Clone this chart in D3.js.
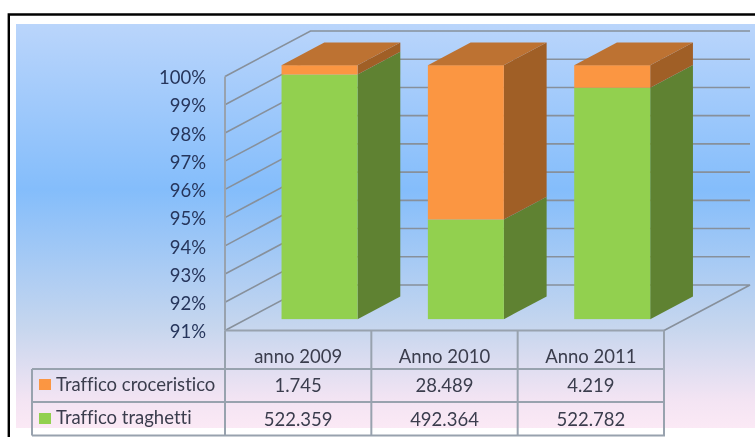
<!DOCTYPE html>
<html>
<head>
<meta charset="utf-8">
<script src="https://cdn.jsdelivr.net/npm/d3@7"></script>
<style>
  html, body { margin: 0; padding: 0; background: #fff; overflow: hidden; }
  svg { display: block; }
  text { font-family: Lato, "Open Sans", sans-serif; font-variant-ligatures: none; }
</style>
</head>
<body>
<svg id="chart" width="755" height="437"></svg>
<script>
var categories = ['anno 2009', 'Anno 2010', 'Anno 2011'];
var seriesNames = ['Traffico traghetti', 'Traffico croceristico'];
var traghetti = [522359, 492364, 522782];
var croceristico = [1745, 28489, 4219];
var yTicks = [0.91, 0.92, 0.93, 0.94, 0.95, 0.96, 0.97, 0.98, 0.99, 1];

var front = { 'Traffico traghetti': '#92d050', 'Traffico croceristico': '#fb9642' };
var side = { 'Traffico traghetti': '#5f8231', 'Traffico croceristico': '#a05f28' };
var topFace = '#bd7232';
var gridColor = '#87909b';
var frameColor = '#98a2ae';

var svg = d3.select('#chart');

var defs = svg.append('defs');
var grad = defs.append('linearGradient')
    .attr('id', 'bg').attr('x1', 0).attr('y1', 0).attr('x2', 0).attr('y2', 1);
[[0, '#bad5fb'], [0.41, '#84bdfb'], [0.75, '#c6d6ee'], [0.93, '#f3e4f3'], [1, '#fbe9f5']].forEach(function(s) {
    grad.append('stop').attr('offset', s[0]).attr('stop-color', s[1]);
});
defs.append('filter').attr('id', 'soft')
    .attr('x', '-2%').attr('y', '-2%').attr('width', '104%').attr('height', '104%')
    .append('feGaussianBlur').attr('stdDeviation', 0.45);

var root = svg.append('g').attr('filter', 'url(#soft)');

// background panel and the black frame of the screenshot
root.append('rect').attr('x', 16).attr('y', 24).attr('width', 745).attr('height', 404).attr('fill', 'url(#bg)');
root.append('path').attr('d', 'M8.8,445V14.5H765')
    .attr('fill', 'none').attr('stroke', '#000').attr('stroke-width', 2.4);

var x = d3.scaleBand().domain(categories).range([225, 664]);
var y = d3.scaleLinear().domain([0.91, 1]).range([330.5, 76.5]);
var depthX = 85.5, depthY = -45.5;

// stacked shares of the table values
var rows = categories.map(function(c, i) {
    return { category: c, 'Traffico traghetti': traghetti[i], 'Traffico croceristico': croceristico[i] };
});
var stacked = d3.stack().keys(seriesNames).offset(d3.stackOffsetExpand)(rows);

// walls
var wall = root.append('g').attr('fill', 'none');
wall.selectAll('path.grid')
    .data(yTicks.slice(1))
    .enter().append('path')
    .attr('class', 'grid')
    .attr('stroke', gridColor)
    .attr('stroke-width', 1.6)
    .attr('d', function(d) {
        return 'M225,' + y(d) + 'l' + depthX + ',' + depthY + 'H750';
    });
wall.append('path')
    .attr('stroke', gridColor).attr('stroke-width', 1.6)
    .attr('d', 'M225,' + y(0.91) + 'l' + depthX + ',' + depthY + 'H750L664,' + y(0.91));
wall.append('path')
    .attr('stroke', frameColor).attr('stroke-width', 2)
    .attr('d', 'M225,' + y(1) + 'V' + y(0.91));

// bars
var barWidth = 76, barDx = depthX / 4, barDy = depthY / 4;
var faceDx = depthX / 2, faceDy = depthY / 2;
var bars = root.append('g');
stacked.forEach(function(layer) {
    var name = layer.key;
    layer.forEach(function(d) {
        var cat = d.data.category;
        var x0 = x(cat) + (x.bandwidth() - barWidth) / 2 + barDx;
        var x1 = x0 + barWidth;
        // the axis starts at 91%, so the lower series is cut there
        var yb = y(Math.max(d[0], 0.91)) + barDy;
        var yt = y(d[1]) + barDy;
        bars.append('path').attr('fill', side[name])
            .attr('d', 'M' + x1 + ',' + yb + 'l' + faceDx + ',' + faceDy + 'V' + (yt + faceDy) + 'L' + x1 + ',' + yt + 'Z');
        bars.append('rect').attr('fill', front[name])
            .attr('x', x0).attr('y', yt).attr('width', barWidth).attr('height', yb - yt);
        if (d[1] === 1) {
            bars.append('path').attr('fill', topFace)
                .attr('d', 'M' + x0 + ',' + yt + 'H' + x1 + 'l' + faceDx + ',' + faceDy + 'H' + (x0 + faceDx) + 'Z');
        }
    });
});

// y axis labels
var yAxis = root.append('g')
    .attr('transform', 'translate(206,1.3)')
    .call(d3.axisLeft(y).tickValues(yTicks).tickSize(0).tickPadding(0).tickFormat(d3.format('.0%')));
yAxis.select('.domain').remove();
yAxis.selectAll('text')
    .style('font-family', 'Lato, sans-serif')
    .style('font-size', '18.5px')
    .attr('fill', '#27365c');

// data table under the chart
var it = d3.formatLocale({ decimal: ',', thousands: '.', grouping: [3], currency: ['', '€'] });
var fmt = it.format(',d');
var rowLines = [369, 402, 435.5];
var colLines = [x.range()[0]].concat(categories.map(function(c) { return x(c) + x.bandwidth(); }));
var table = root.append('g').attr('stroke', frameColor).attr('stroke-width', 2).attr('fill', 'none');
table.append('path').attr('d', 'M225,' + y(0.91) + 'H664');
table.selectAll('path.row').data(rowLines).enter().append('path')
    .attr('class', 'row')
    .attr('d', function(d) { return 'M32,' + d + 'H665'; });
table.append('path').attr('d', 'M32,369V435.5');
table.selectAll('path.col').data(colLines).enter().append('path')
    .attr('class', 'col')
    .attr('d', function(d) { return 'M' + d + ',' + y(0.91) + 'V435.5'; });

var cellStyle = function(sel) {
    sel.attr('text-anchor', 'middle').attr('font-size', 18.5).attr('fill', '#3a3d4d');
};
root.selectAll('text.head').data(categories).enter().append('text')
    .attr('class', 'head')
    .attr('x', function(c) { return x(c) + x.bandwidth() / 2; })
    .attr('y', 362.5)
    .text(function(c) { return c; })
    .call(cellStyle);
root.selectAll('text.cro').data(croceristico).enter().append('text')
    .attr('class', 'cro')
    .attr('x', function(d, i) { return x(categories[i]) + x.bandwidth() / 2; })
    .attr('y', 391.5)
    .text(function(d) { return fmt(d); })
    .call(cellStyle);
root.selectAll('text.tra').data(traghetti).enter().append('text')
    .attr('class', 'tra')
    .attr('x', function(d, i) { return x(categories[i]) + x.bandwidth() / 2; })
    .attr('y', 425.5)
    .text(function(d) { return fmt(d); })
    .call(cellStyle);

// legend keys sit in the first table column
var legendRows = [
    { name: 'Traffico croceristico', keyY: 379, textY: 390.5 },
    { name: 'Traffico traghetti', keyY: 413, textY: 424 }
];
root.selectAll('rect.key').data(legendRows).enter().append('rect')
    .attr('class', 'key')
    .attr('x', 39).attr('y', function(d) { return d.keyY; })
    .attr('width', 12).attr('height', 11)
    .attr('fill', function(d) { return front[d.name]; });
root.selectAll('text.legend').data(legendRows).enter().append('text')
    .attr('class', 'legend')
    .attr('x', 56).attr('y', function(d) { return d.textY; })
    .attr('font-size', 18.5).attr('fill', '#3a3d4d')
    .text(function(d) { return d.name; });
</script>
</body>
</html>
